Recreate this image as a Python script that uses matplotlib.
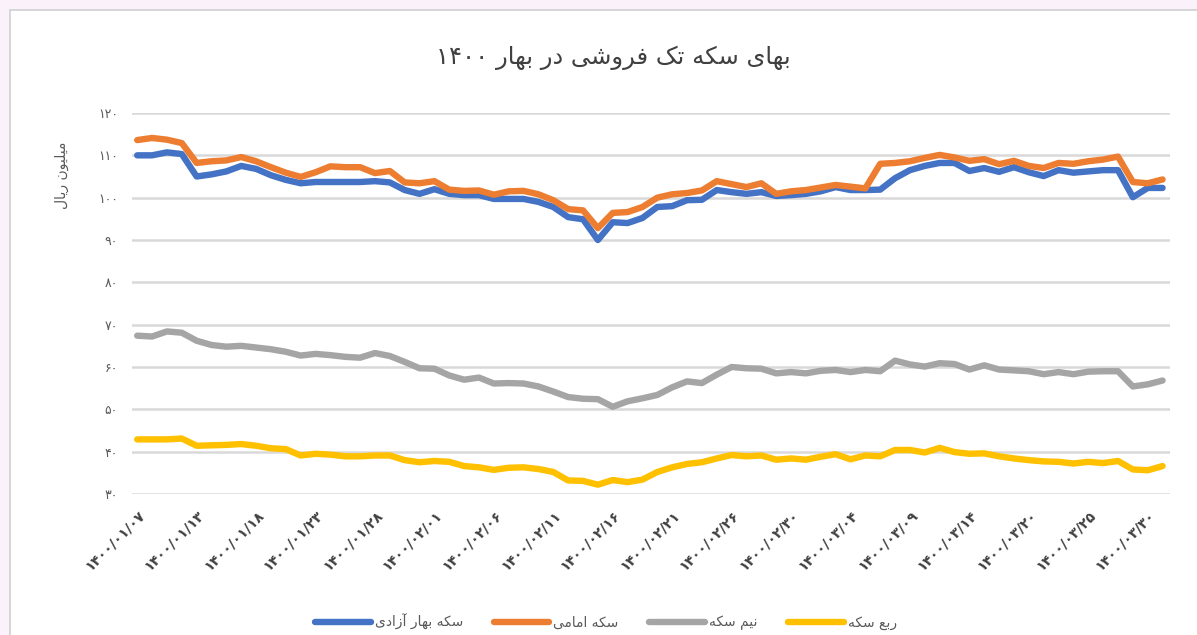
import matplotlib
matplotlib.use('Agg')
import matplotlib.pyplot as plt
from matplotlib.patches import Rectangle

plt.rcParams['font.family'] = ['DejaVu Sans']

# Prices in million rials, one value per trading day (spring 1400)
bahar_azadi = [110, 110, 110.7, 110.3, 105, 105.5, 106.2, 107.5, 106.8, 105.3,
               104.2, 103.4, 103.7, 103.7, 103.7, 103.7, 103.9, 103.6, 101.8, 100.9,
               102, 100.9, 100.6, 100.6, 99.7, 99.7, 99.7, 99, 97.8, 95.4,
               94.9, 90, 94.2, 94, 95.2, 97.8, 98, 99.4, 99.5, 101.8,
               101.3, 100.9, 101.3, 100.4, 100.6, 100.9, 101.5, 102.5, 101.8, 101.8,
               101.9, 104.6, 106.5, 107.5, 108.2, 108.2, 106.3, 107, 106.1, 107.2,
               106, 105.1, 106.5, 105.9, 106.2, 106.5, 106.5, 100.1, 102.3, 102.3]
emami = [113.6, 114.1, 113.7, 112.9, 108.2, 108.6, 108.8, 109.6, 108.6, 107.2,
         105.9, 104.9, 106.0, 107.4, 107.2, 107.2, 105.8, 106.3, 103.6, 103.4,
         103.9, 101.9, 101.6, 101.7, 100.7, 101.5, 101.6, 100.8, 99.4, 97.3,
         97.0, 92.8, 96.4, 96.6, 97.8, 100.0, 100.8, 101.1, 101.7, 103.9,
         103.2, 102.5, 103.4, 100.9, 101.5, 101.8, 102.4, 103.0, 102.6, 102.2,
         108.0, 108.2, 108.6, 109.4, 110.1, 109.5, 108.7, 109.1, 107.9, 108.7,
         107.5, 107.0, 108.2, 108.0, 108.6, 109.0, 109.7, 103.7, 103.4, 104.3]
nim = [67.4, 67.2, 68.4, 68.1, 66.2, 65.2, 64.8, 65.0, 64.6, 64.2,
       63.6, 62.7, 63.1, 62.8, 62.4, 62.2, 63.3, 62.6, 61.2, 59.7,
       59.6, 58.0, 57.0, 57.5, 56.1, 56.2, 56.1, 55.4, 54.2, 52.9,
       52.5, 52.4, 50.6, 51.9, 52.6, 53.4, 55.2, 56.6, 56.2, 58.2,
       60.0, 59.7, 59.6, 58.5, 58.8, 58.5, 59.1, 59.3, 58.8, 59.3,
       59.0, 61.5, 60.6, 60.1, 60.9, 60.7, 59.4, 60.4, 59.4, 59.2,
       59.0, 58.3, 58.8, 58.3, 58.9, 59.0, 59.0, 55.4, 55.9, 56.8]
rob = [42.9, 42.9, 42.9, 43.1, 41.4, 41.5, 41.6, 41.8, 41.4, 40.8,
       40.6, 39.1, 39.5, 39.3, 38.9, 38.9, 39.1, 39.1, 38.0, 37.5,
       37.8, 37.6, 36.6, 36.3, 35.7, 36.2, 36.3, 35.9, 35.2, 33.2,
       33.1, 32.2, 33.3, 32.8, 33.4, 35.2, 36.3, 37.1, 37.5, 38.4,
       39.2, 38.9, 39.1, 38.1, 38.4, 38.1, 38.8, 39.4, 38.2, 39.1,
       38.9, 40.4, 40.4, 39.8, 40.9, 39.9, 39.5, 39.6, 38.9, 38.4,
       38.0, 37.7, 37.6, 37.2, 37.6, 37.3, 37.8, 35.8, 35.6, 36.6]

# every 4th trading day is labelled
tick_dates = ['1400/01/07', '1400/01/13', '1400/01/18', '1400/01/23', '1400/01/28',
              '1400/02/01', '1400/02/06', '1400/02/11', '1400/02/16', '1400/02/21',
              '1400/02/26', '1400/02/30', '1400/03/04', '1400/03/09', '1400/03/14',
              '1400/03/20', '1400/03/25', '1400/03/30']
y_ticks = [30, 40, 50, 60, 70, 80, 90, 100, 110, 120]

series_names = ['سکه بهار آزادی', 'سکه امامی', 'نیم سکه', 'ربع سکه']
colors = ['#4472C4', '#ED7D31', '#A5A5A5', '#FFC000']
title = 'بهای سکه تک فروشی در بهار 1400'
ylabel = 'میلیون ریال'

# matplotlib has no arabic shaping, so pick the presentation forms by hand
forms = {
    'ا': ('\uFE8D', '\uFE8E'), 'آ': ('\uFE81', '\uFE82'),
    'د': ('\uFEA9', '\uFEAA'), 'ر': ('\uFEAD', '\uFEAE'),
    'ز': ('\uFEAF', '\uFEB0'), 'و': ('\uFEED', '\uFEEE'),
    'ب': ('\uFE8F', '\uFE90', '\uFE91', '\uFE92'),
    'ت': ('\uFE95', '\uFE96', '\uFE97', '\uFE98'),
    'س': ('\uFEB1', '\uFEB2', '\uFEB3', '\uFEB4'),
    'ش': ('\uFEB5', '\uFEB6', '\uFEB7', '\uFEB8'),
    'ع': ('\uFEC9', '\uFECA', '\uFECB', '\uFECC'),
    'ف': ('\uFED1', '\uFED2', '\uFED3', '\uFED4'),
    'ل': ('\uFEDD', '\uFEDE', '\uFEDF', '\uFEE0'),
    'م': ('\uFEE1', '\uFEE2', '\uFEE3', '\uFEE4'),
    'ن': ('\uFEE5', '\uFEE6', '\uFEE7', '\uFEE8'),
    'ه': ('\uFEE9', '\uFEEA', '\uFEEB', '\uFEEC'),
    'ی': ('\uFBFC', '\uFBFD', '\uFBFE', '\uFBFF'),
    'ک': ('\uFB8E', '\uFB8F', '\uFB90', '\uFB91'),
}
fa_digits = str.maketrans('0123456789', '۰۱۲۳۴۵۶۷۸۹')

def shape_word(w):
    out = []
    for i, ch in enumerate(w):
        f = forms.get(ch)
        if f is None:
            out.append(ch)
            continue
        prev = w[i - 1] if i > 0 else ''
        nxt = w[i + 1] if i < len(w) - 1 else ''
        jp = prev in forms and len(forms[prev]) == 4
        jn = len(f) == 4 and nxt in forms
        if jp and jn:
            out.append(f[3])
        elif jp:
            out.append(f[1])
        elif jn:
            out.append(f[2])
        else:
            out.append(f[0])
    return ''.join(reversed(out))

def fa(text):
    tokens = text.translate(fa_digits).split(' ')
    shaped = [shape_word(t) if any(c in forms for c in t) else t for t in tokens]
    return ' '.join(reversed(shaped))

fig = plt.figure(figsize=(11.97, 6.35), dpi=100)
fig.patch.set_facecolor('#fbf1fb')
# white chart panel with a thin border, the pink page shows on top and left
fig.patches.append(Rectangle((10 / 1197, -0.01), 1.0, 1 - 10 / 635 + 0.01,
                             transform=fig.transFigure, facecolor='white',
                             edgecolor='#d0d0d0', linewidth=1.2, zorder=-5))

ax = fig.add_axes([132 / 1197, 1 - 494 / 635, (1170 - 132) / 1197, (494 - 113) / 635])
ax.set_facecolor('none')

x = list(range(len(bahar_azadi)))
for vals, name, c in zip([bahar_azadi, emami, nim, rob], series_names, colors):
    ax.plot(x, vals, color=c, linewidth=4.6, solid_capstyle='round',
            solid_joinstyle='round', label=fa(name))

ax.set_ylim(30, 120)
ax.set_xlim(-0.35, len(x) - 0.5)
ax.set_yticks(y_ticks)
ax.set_yticklabels([str(v).translate(fa_digits) for v in y_ticks], color='#595959', fontsize=9)
ax.set_xticks(x[::4])
ax.set_xticklabels([d.translate(fa_digits) for d in tick_dates], rotation=45,
                   ha='right', rotation_mode='anchor', fontsize=10, fontweight='bold',
                   color='#404040')
ax.tick_params(length=0, pad=10)
ax.tick_params(axis='y', pad=10)
ax.grid(axis='y', color='#d9d9d9', linewidth=1.8)
ax.set_axisbelow(True)
for s in ax.spines.values():
    s.set_visible(False)

fig.text(613 / 1197, 1 - 58 / 635, fa(title), ha='center', va='center',
         fontsize=17.5, color='#404040')
fig.text(62 / 1197, 1 - 175 / 635, fa(ylabel), ha='center', va='center',
         rotation=90, fontsize=10, color='#595959')

fig.legend(loc='center', bbox_to_anchor=(606 / 1197, 1 - 622 / 635), ncol=4,
           frameon=False, fontsize=10, handlelength=4, columnspacing=2.2,
           handletextpad=0.3, labelcolor='#595959')

fig.savefig('out.png', dpi=100, facecolor=fig.get_facecolor())
